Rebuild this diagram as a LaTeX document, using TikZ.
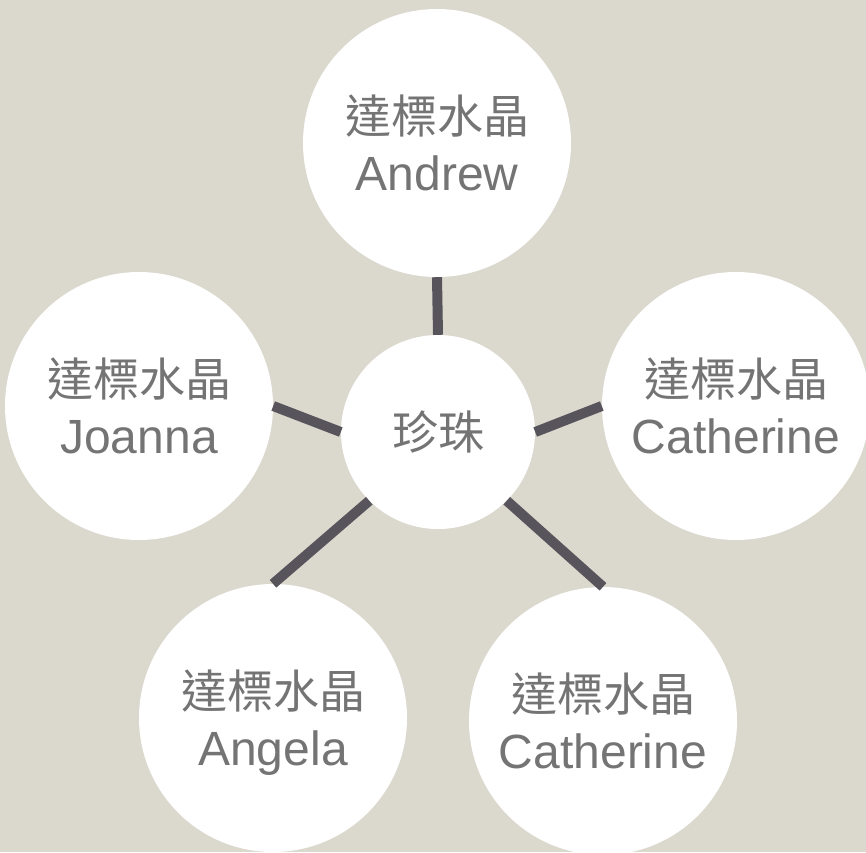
\documentclass[tikz,border=0pt]{standalone}
\usepackage{fontspec}
\setmainfont{Liberation Sans}
\newfontfamily\cjk{Noto Sans CJK TC}
\usetikzlibrary{positioning}
\definecolor{bgbeige}{HTML}{DBD8CE}
\definecolor{linkgray}{HTML}{57555B}
\definecolor{textgray}{HTML}{747474}
\newcommand{\zh}[1]{{\cjk\fontsize{46}{57}\selectfont #1}}

\begin{document}
\begin{tikzpicture}[x=1pt,y=-1pt,
		leaf/.style={circle, fill=white, inner sep=0pt, minimum size=268pt, align=center, text=textgray, text depth=-6pt, font=\fontsize{48}{57}\selectfont},
		hub/.style={circle, fill=white, inner sep=0pt, minimum size=194pt, text=textgray, font=\fontsize{46}{57}\selectfont\cjk},
		link/.style={line width=10pt, draw=linkgray}]
				\fill[bgbeige] (0,0) rectangle (866,852);
				\useasboundingbox (0,0) rectangle (866,852);
				\clip (0,0) rectangle (866,852);
				\node[hub] (pearl) at (438, 432) {珍珠};
				\node[leaf] (andrew) at (437, 143) {\zh{達標水晶}\\Andrew};
				\node[leaf] (joanna) at (139, 406) {\zh{達標水晶}\\Joanna};
				\node[leaf] (cathright) at (736, 406) {\zh{達標水晶}\\Catherine};
				\node[leaf] (angela) at (273, 718) {\zh{達標水晶}\\Angela};
				\node[leaf] (cathlow) at (603, 721) {\zh{達標水晶}\\Catherine};
				\draw[link] (pearl.north) -- (andrew.south);
				\draw[link] (pearl.west) -- (joanna.east);
				\draw[link] (pearl.east) -- (cathright.west);
				\draw[link] (pearl.south west) -- (angela.north);
				\draw[link] (pearl.south east) -- (cathlow.north);
				\end{tikzpicture}
\end{document}
